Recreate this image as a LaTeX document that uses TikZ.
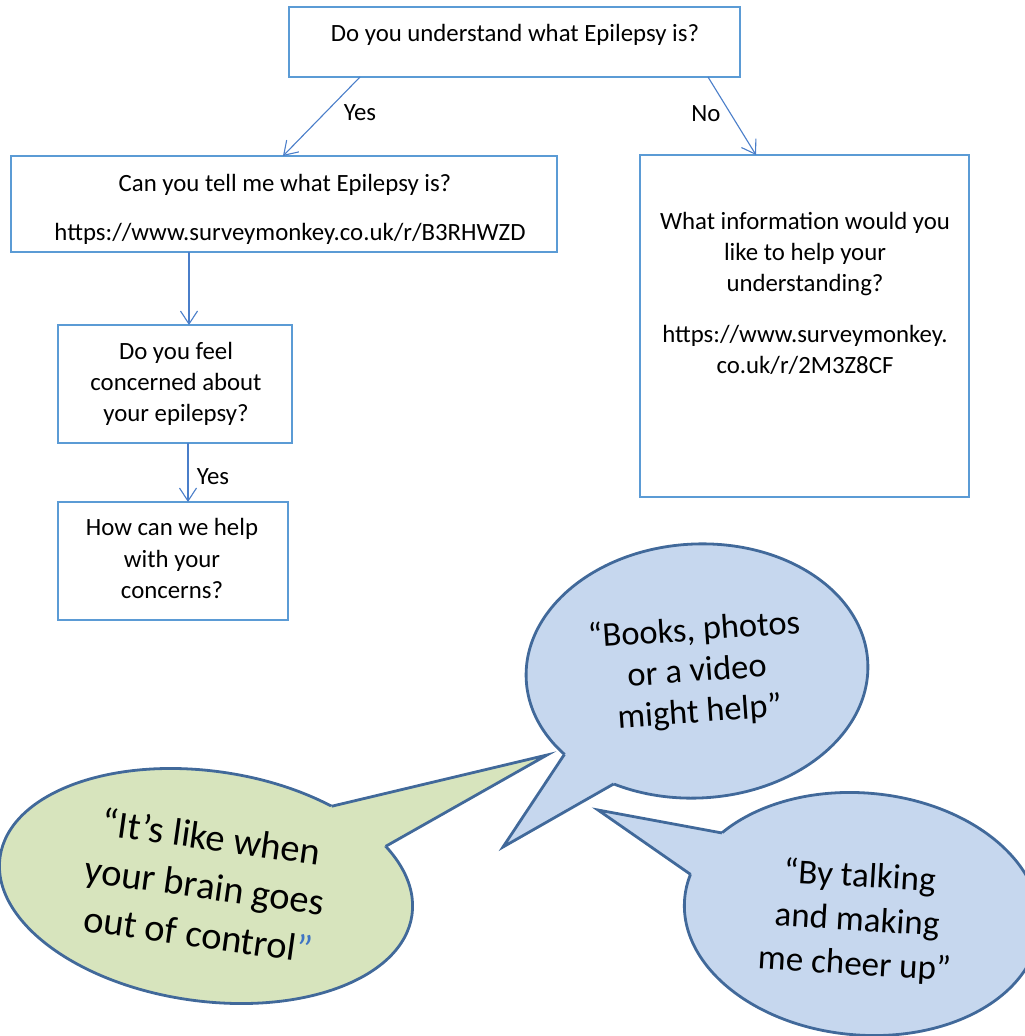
\documentclass[tikz,border=0pt]{standalone}
\usepackage{fontspec}
\setmainfont{Carlito}
\usetikzlibrary{arrows.meta}
\definecolor{boxblue}{HTML}{5B9BD5}
\definecolor{arrblue}{HTML}{4A7EC9}
\definecolor{callline}{HTML}{41699A}
\definecolor{callblue}{HTML}{C6D7EE}
\definecolor{callgreen}{HTML}{D7E4BD}
\definecolor{quoteblue}{HTML}{3F74C4}
\begin{document}
\begin{tikzpicture}[x=1pt,y=-1pt,
 box/.style={draw=boxblue,line width=2.5pt,anchor=north west,inner sep=0pt,outer sep=0pt},
 txt/.style={font=\fontsize{24.8}{29}\selectfont,inner sep=0pt,text height=17.4pt,text depth=5.7pt,yshift=-2pt},
 arr/.style={draw=arrblue,line width=1.1pt,-{Straight Barb[length=13pt,width=17pt,line width=1.1pt]}},
 cline/.style={draw=callline,line width=2.8pt,line join=miter},
 qa/.style={font=\fontsize{38.5}{49}\selectfont,inner sep=0pt,align=center,rotate=-8},
 qb/.style={font=\fontsize{34.5}{41}\selectfont,inner sep=0pt,align=center,rotate=4},
 qc/.style={font=\fontsize{35}{44}\selectfont,inner sep=0pt,align=center,rotate=-3.5}]
\useasboundingbox (0,0) rectangle (1025,1036);
\clip (0,0) rectangle (1025,1036);

% ---------- flowchart boxes ----------
\node[box,minimum width=451pt,minimum height=70pt] (b1) at (289,7) {};
\node[box,minimum width=546pt,minimum height=96pt] (b2) at (11,156) {};
\node[box,minimum width=234pt,minimum height=118pt] (b3) at (58,325) {};
\node[box,minimum width=230pt,minimum height=118pt] (b4) at (58,502) {};
\node[box,minimum width=329pt,minimum height=342pt] (b5) at (640,155) {};

% ---------- box texts ----------
\node[txt] (t1) at (515,34) {Do you understand what Epilepsy is?};
\node[txt] (t2a) at (285,184) {Can you tell me what Epilepsy is?};
\node[txt] (t2b) at (290,233) {https://www.surveymonkey.co.uk/r/B3RHWZD};
\node[txt] (t3a) at (176,352) {Do you feel};
\node[txt] (t3b) at (176,383) {concerned about};
\node[txt] (t3c) at (176,414) {your epilepsy?};
\node[txt] (t4a) at (172,528) {How can we help};
\node[txt] (t4b) at (172,560) {with your};
\node[txt] (t4c) at (172,591) {concerns?};
\node[txt] (t5a) at (805,222) {What information would you};
\node[txt] (t5b) at (805,253) {like to help your};
\node[txt] (t5c) at (805,284) {understanding?};
\node[txt] (t5d) at (805,335) {https://www.surveymonkey.};
\node[txt] (t5e) at (805,366) {co.uk/r/2M3Z8CF};

% ---------- connectors ----------
\draw[arr] ([xshift=71pt]b1.south west) -- ([xshift=272pt]b2.north west);
\draw[arr] ([xshift=419pt]b1.south west) -- ([xshift=116pt]b5.north west);
\draw[arr] ([xshift=178pt]b2.south west) -- ([xshift=131pt]b3.north west);
\draw[arr] ([xshift=130pt]b3.south west) -- ([xshift=130pt]b4.north west);
\node[txt] (l1) at (360,113) {Yes};
\node[txt] (l2) at (706,114) {No};
\node[txt] (l3) at (213,477) {Yes};

% ---------- green callout ----------
\coordinate (gc) at (206,886);
\coordinate (gt) at (547,755);
\begin{scope}[shift={(gc)},rotate=-8]
 \filldraw[cline,fill=callgreen] (0,0) ellipse [x radius=208pt,y radius=115pt];
 \coordinate (g1) at (57:208pt and 115pt);
 \coordinate (g2) at (34:208pt and 115pt);
\end{scope}
\fill[callgreen] (gc) -- (g1) -- (gt) -- (g2) -- cycle;
\draw[cline] (g1) -- (gt) -- (g2);
\node[qa] (gq) at (205,885) {“It’s like when\\your brain goes\\out of control\textcolor{quoteblue}{”}};

% ---------- blue callout (top) ----------
\coordinate (bc) at (697,671);
\coordinate (bt) at (503,847);
\begin{scope}[shift={(bc)},rotate=3]
 \filldraw[cline,fill=callblue] (0,0) ellipse [x radius=171pt,y radius=127pt];
 \coordinate (bb1) at (216.9:171pt and 127pt);
 \coordinate (bb2) at (238.6:171pt and 127pt);
\end{scope}
\fill[callblue] (bc) -- (bb1) -- (bt) -- (bb2) -- cycle;
\draw[cline] (bb1) -- (bt) -- (bb2);
\node[qb] (bq) at (697,672) {“Books, photos\\or a video\\might help”};

% ---------- blue callout (bottom right) ----------
\coordinate (rc) at (862,914);
\coordinate (rt) at (598,810);
\begin{scope}[shift={(rc)},rotate=-5]
 \filldraw[cline,fill=callblue] (0,0) ellipse [x radius=178pt,y radius=121pt];
 \coordinate (r1) at (145.5:178pt and 121pt);
 \coordinate (r2) at (168.3:178pt and 121pt);
\end{scope}
\fill[callblue] (rc) -- (r1) -- (rt) -- (r2) -- cycle;
\draw[cline] (r1) -- (rt) -- (r2);
\node[qc] (rq) at (857,921) {“By talking\\and making\\me cheer up”};
\end{tikzpicture}
\end{document}
